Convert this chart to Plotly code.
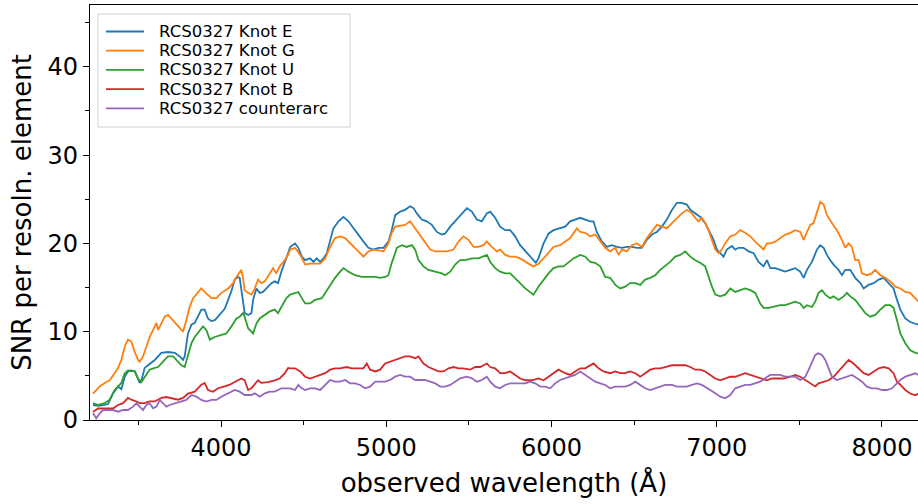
import plotly.graph_objects as go

# ---------------- data ----------------
series_names = ["RCS0327 Knot E", "RCS0327 Knot G", "RCS0327 Knot U",
                "RCS0327 Knot B", "RCS0327 counterarc"]
series_colors = ["#1f77b4", "#ff7f0e", "#2ca02c", "#d62728", "#9467bd"]

wave_E = [3225,3256,3296,3316,3346,3377,3397,3417,3437,3457,3478,3498,3508,3518,3538,3558,3599,3639,3679,3720,
          3750,3770,3780,3800,3821,3841,3861,3881,3901,3921,3942,3962,3982,4002,4022,4043,4063,4083,4103,4113,
          4133,4143,4164,4184,4194,4214,4234,4254,4285,4305,4325,4345,4365,4386,4406,
          4418,4448,4468,4489,4509,4539,4559,4579,4600,4620,4640,4660,4680,4711,4741,4771,4801,4832,4862,4892,
          4923,4953,4983,5013,5033,5054,5084,5114,5144,5165,5185,5215,5245,5276,5306,5336,5356,5387,5427,5457,
          5488,5518,5548,5578,5609,5629,5659,5689,
          5720,5750,5780,5810,5841,5871,5891,5905,5921,5952,5982,6012,6052,6083,6113,6143,6174,6204,6234,6254,
          6274,6305,6335,6365,6396,6426,6456,6486,6517,6547,6577,6607,6638,6668,6698,6729,6759,6789,6819,6840,
          6870,6900,6930,
          6950,6981,7001,7021,7041,7061,7092,7112,7132,7162,7193,7223,7253,7283,7304,7324,7354,7384,7415,7445,
          7475,7505,7526,7546,7576,7606,7626,7647,7667,7687,7707,7737,7758,7778,7808,7838,7869,7889,7919,7949,
          7980,8010,8040,8070,8091,8111,8141,8171,8202,8220]
snr_E = [1.7,1.6,1.7,1.8,3.0,3.8,3.5,4.9,5.5,5.6,5.5,4.5,4.2,4.5,5.9,6.2,6.8,7.6,7.7,7.6,
         7.2,6.8,7.2,9.8,10.8,11.0,11.7,12.5,12.5,11.5,11.2,11.3,11.7,12.1,12.6,13.6,14.6,15.9,16.2,16.1,
         13.6,12.1,11.9,12.1,13.6,14.9,14.4,14.5,15.1,15.5,15.7,15.5,16.8,17.8,18.9,
         19.6,20.0,19.5,18.5,18.1,18.3,17.9,18.3,17.9,18.3,18.9,20.4,21.7,22.5,23.0,22.5,21.7,21.0,20.2,19.5,
         19.3,19.5,19.5,20.2,21.5,23.2,23.6,23.8,24.2,24.0,23.4,22.7,22.5,22.1,21.3,21.0,21.1,21.9,22.7,23.4,
         24.0,23.6,22.7,22.5,23.4,23.6,22.9,21.9,
         21.5,21.5,20.8,19.8,19.1,18.5,18.1,17.8,18.3,20.0,21.1,21.5,21.7,21.9,22.5,22.7,22.9,22.7,22.5,22.5,
         21.3,20.2,19.6,19.8,19.6,19.5,19.6,19.6,19.5,19.5,20.4,21.0,21.3,21.9,22.7,23.8,24.6,24.6,24.4,23.8,
         23.4,23.0,22.3,
         21.5,20.4,19.3,18.9,18.5,19.3,19.7,19.3,19.5,19.5,19.1,18.9,17.9,17.4,18.1,17.2,17.2,17.0,16.8,17.0,
         17.2,16.8,16.1,17.0,17.9,19.3,19.8,19.5,18.7,18.1,17.6,17.0,16.4,17.0,17.0,16.1,15.5,14.9,15.3,15.5,
         15.9,16.1,15.5,14.9,13.6,12.5,11.5,11.1,10.9,10.8]

wave_G = [3225,3245,3266,3296,3326,3356,3377,3397,3417,3437,3457,3478,3498,3508,3528,3548,3568,3589,3609,3619,
          3639,3659,3679,3699,3720,3750,3770,3790,3810,3831,3851,3881,3901,3921,3942,3972,4002,4043,4073,4093,
          4123,4133,4143,4164,4184,4204,4224,4244,4265,4295,4315,4335,4355,4386,4406,
          4418,4448,4479,4509,4539,4569,4600,4630,4660,4690,4721,4751,4781,4822,4862,4892,4923,4953,4983,5013,
          5033,5054,5084,5114,5144,5175,5205,5235,5266,5296,5326,5366,5407,5437,5467,5498,5528,5558,5588,5609,
          5639,5669,5689,
          5720,5750,5780,5810,5841,5871,5891,5921,5952,5982,6012,6052,6083,6113,6153,6174,6204,6234,6264,6295,
          6325,6355,6386,6406,6426,6456,6486,6517,6547,6577,6607,6638,6668,6698,6729,6759,6789,6819,6850,6870,
          6890,6910,6930,
          6950,6971,6991,7011,7031,7051,7082,7112,7142,7172,7203,7233,7263,7283,7304,7324,7354,7384,7415,7445,
          7475,7505,7526,7546,7566,7586,7606,7626,7647,7667,7697,7727,7758,7778,7798,7818,7838,7859,7879,7909,
          7939,7959,7990,8020,8050,8081,8111,8141,8171,8202,8220]
snr_G = [3.0,3.4,3.8,4.2,4.5,5.3,5.9,6.8,8.3,9.1,8.9,7.7,6.8,6.6,7.2,8.3,9.4,10.2,11.0,10.2,
         11.0,11.7,11.9,11.5,11.0,10.4,10.0,11.3,12.8,13.8,14.2,14.9,14.5,14.2,13.8,13.8,14.4,14.9,15.5,16.2,
         17.0,16.1,14.7,14.4,14.2,14.9,15.9,15.5,15.7,16.6,17.2,16.6,17.4,18.1,18.7,
         19.3,19.5,18.7,17.6,17.7,17.7,17.7,18.3,19.6,20.6,20.8,20.6,20.0,19.3,18.5,19.1,19.3,19.2,19.1,20.0,
         21.2,21.9,22.0,22.1,22.5,21.7,21.0,20.2,19.3,19.1,19.1,19.1,19.3,20.2,20.8,20.4,19.6,19.6,19.8,20.2,
         19.6,19.1,19.3,
         18.7,18.5,18.5,18.3,17.9,17.6,17.4,17.7,18.3,18.9,19.6,19.8,20.2,20.6,21.7,21.3,21.2,20.8,21.0,20.2,
         19.5,19.1,19.5,18.7,19.3,19.1,19.8,20.0,19.6,20.6,21.3,22.1,21.9,21.7,22.3,22.9,23.4,23.8,23.4,22.9,
         22.5,22.9,22.3,
         21.5,20.4,19.3,18.9,19.3,20.0,20.8,21.0,21.5,21.2,20.8,20.2,19.6,19.3,20.0,20.0,20.2,20.6,21.0,21.2,
         21.5,21.3,20.4,21.3,22.1,22.3,23.4,24.7,24.4,23.2,22.3,21.5,20.4,19.5,20.0,19.6,18.1,18.1,16.6,16.4,
         16.6,17.0,16.4,16.1,15.7,15.1,14.9,14.5,14.4,13.8,13.4]

wave_U = [3225,3256,3296,3326,3356,3377,3397,3417,3437,3478,3498,3518,3538,3568,3599,3619,3649,3679,3710,3730,
          3760,3780,3800,3821,3841,3871,3891,3911,3932,3962,4002,4032,4063,4093,4113,4133,4143,4164,4194,4214,
          4234,4265,4295,4325,4345,4365,4396,
          4418,4448,4468,4489,4509,4539,4569,4610,4630,4660,4690,4721,4741,4771,4811,4852,4892,4933,4963,4993,
          5013,5033,5054,5064,5094,5124,5155,5175,5195,5225,5255,5296,5336,5356,5387,5417,5447,5477,5518,5558,
          5588,5609,5629,5659,5689,
          5720,5750,5780,5810,5841,5871,5891,5921,5952,5982,6012,6042,6073,6103,6133,6174,6204,6234,6264,6295,
          6325,6355,6386,6416,6446,6476,6507,6537,6567,6597,6628,6658,6688,6718,6749,6779,6809,6840,6870,6900,
          6930,
          6950,6971,6991,7021,7051,7082,7112,7142,7172,7203,7233,7263,7283,7314,7344,7384,7415,7445,7475,7505,
          7526,7546,7576,7596,7616,7637,7657,7687,7707,7737,7768,7788,7808,7838,7869,7899,7929,7959,7990,8020,
          8050,8070,8091,8111,8141,8171,8202,8220]
snr_U = [1.9,1.7,1.9,2.3,3.4,3.8,4.2,5.3,5.6,5.5,4.7,4.3,4.9,5.7,5.9,6.0,6.6,7.2,7.2,6.8,
         6.2,6.0,7.2,8.7,9.4,10.2,10.6,10.2,9.1,9.4,9.6,9.8,10.6,11.5,11.7,12.1,11.7,10.4,9.8,10.9,
         11.5,11.9,12.3,12.5,12.1,12.8,13.8,
         14.2,14.4,14.5,13.8,13.2,13.2,13.6,13.8,14.4,15.3,16.1,16.8,17.2,16.8,16.4,16.2,16.2,16.2,16.1,16.2,
         16.4,17.8,18.9,19.5,19.8,19.6,19.8,19.3,18.1,17.4,17.0,16.8,16.6,16.4,16.8,17.6,18.1,18.1,18.3,18.3,
         18.5,18.7,17.9,17.2,16.8,
         16.6,16.6,16.1,15.5,14.9,14.5,14.2,15.1,15.9,16.6,17.2,17.4,17.4,17.9,18.3,18.7,18.5,17.9,17.8,17.4,
         16.2,16.1,15.3,14.9,15.1,15.5,15.5,15.3,15.9,16.1,16.4,17.0,17.4,17.9,18.5,18.7,19.1,18.5,18.1,17.8,
         17.4,
         16.2,15.1,14.2,14.0,14.2,14.9,14.5,14.7,14.9,14.7,14.4,13.2,12.7,12.7,12.8,13.0,13.0,13.2,13.4,13.2,
         12.7,13.0,12.8,13.4,14.4,14.7,14.2,13.8,14.0,13.6,14.0,14.4,14.0,13.6,12.8,12.1,11.7,11.9,12.5,13.0,
         13.0,12.7,11.3,9.8,8.7,7.9,7.6,7.55]

wave_B = [3225,3256,3286,3316,3346,3377,3407,3437,3457,3488,3508,3538,3568,3599,3639,3669,3699,3740,3770,3800,
          3841,3881,3901,3921,3952,3982,4022,4053,4083,4123,4143,4164,4184,4204,4224,4244,4285,4325,4355,4386,
          4406,
          4418,4448,4479,4509,4539,4569,4600,4630,4660,4690,4721,4761,4791,4832,4862,4882,4902,4933,4963,4993,
          5023,5054,5084,5114,5144,5175,5195,5225,5255,5286,5316,5346,5377,5407,5437,5467,5508,5538,5568,5609,
          5629,5659,5689,
          5720,5750,5780,5810,5841,5881,5921,5952,5982,6012,6042,6083,6113,6143,6174,6204,6234,6254,6285,6315,
          6355,6386,6416,6446,6476,6507,6537,6567,6597,6628,6658,6688,6729,6769,6809,6840,6870,6900,6930,
          6961,6991,7021,7051,7082,7112,7142,7172,7203,7233,7263,7304,7334,7364,7405,7445,7475,7505,7536,7566,
          7596,7616,7647,7677,7707,7737,7768,7798,7828,7859,7889,7919,7949,7980,8010,8040,8070,8091,8111,8141,
          8171,8202,8220]
snr_B = [0.9,1.3,1.3,1.3,1.3,1.7,1.9,2.5,2.3,2.1,1.9,1.9,2.1,2.1,2.5,2.6,2.5,2.3,2.5,3.0,
         3.2,4.0,4.2,3.4,3.2,3.6,3.8,4.0,4.3,4.7,4.5,3.4,3.6,4.0,4.5,4.2,4.3,4.5,4.7,5.3,
         5.9,
         5.85,5.85,5.5,4.9,4.7,4.9,5.1,5.3,5.7,5.85,5.85,6.0,5.85,5.85,5.85,6.4,5.7,5.5,5.7,6.4,
         6.6,6.8,7.0,7.2,7.2,7.0,7.2,6.4,6.0,5.7,5.5,5.5,5.85,6.0,5.85,5.85,5.7,6.0,6.0,6.4,
         6.0,5.85,5.3,
         5.3,5.5,5.1,4.7,4.5,4.5,4.7,4.5,4.9,5.3,5.7,5.3,5.1,5.5,5.85,5.85,6.2,6.4,5.85,5.5,
         5.3,5.5,5.3,5.3,5.5,5.3,4.9,5.3,5.7,5.85,5.85,6.0,6.2,6.2,6.2,6.0,5.7,5.7,5.5,
         5.1,4.7,4.5,4.7,4.9,4.9,5.1,5.3,5.1,4.9,4.7,4.5,4.7,4.7,4.7,4.9,5.1,4.9,4.5,4.15,
         3.8,4.15,4.3,4.5,4.9,5.5,6.2,6.8,6.4,5.85,5.3,5.1,5.5,5.85,6.0,5.85,5.3,4.3,4.0,3.4,
         3.0,2.8,3.0]

wave_CA = [3225,3245,3266,3286,3316,3346,3377,3407,3437,3467,3488,3508,3528,3548,3568,3589,3609,3629,3649,3669,
           3689,3720,3760,3790,3821,3851,3881,3911,3942,3972,4002,4043,4083,4113,4143,4184,4204,4234,4265,4295,
           4325,4365,4406,
           4418,4448,4468,4489,4509,4539,4569,4600,4630,4660,4690,4721,4751,4781,4811,4842,4872,4902,4933,4963,
           4993,5023,5054,5084,5114,5144,5175,5205,5235,5266,5296,5326,5356,5387,5417,5447,5488,5518,5548,5578,
           5609,5629,5659,5689,
           5720,5750,5780,5810,5841,5871,5901,5932,5962,5992,6022,6052,6083,6113,6143,6174,6204,6234,6264,6295,
           6325,6355,6386,6416,6446,6476,6507,6537,6567,6597,6628,6658,6688,6729,6759,6789,6819,6850,6880,6910,
           6930,
           6961,6991,7021,7051,7082,7112,7142,7172,7203,7233,7263,7293,7324,7354,7384,7415,7445,7475,7505,7536,
           7556,7576,7596,7616,7637,7657,7677,7697,7727,7758,7788,7818,7849,7879,7909,7939,7970,8000,8030,8060,
           8091,8111,8141,8171,8202,8220]
snr_CA = [0.76,0.19,0.76,1.13,1.13,1.13,0.94,1.13,1.13,1.51,1.89,1.51,1.13,1.7,1.89,1.32,1.51,2.27,1.89,1.51,
          1.7,1.89,2.08,2.27,2.83,2.64,2.27,2.08,2.27,2.27,2.64,3.02,3.4,3.21,2.83,2.83,3.02,2.64,3.02,3.21,
          3.21,3.59,3.59,
          3.59,3.4,3.97,3.59,3.4,3.59,3.59,3.4,3.97,4.53,4.34,4.34,4.53,4.15,4.15,3.97,3.59,3.78,4.34,4.34,
          4.34,4.53,4.91,5.1,4.91,4.91,4.53,4.53,4.53,4.34,4.15,3.78,3.78,3.97,4.34,4.72,4.91,4.72,4.34,4.53,
          4.91,4.34,3.78,3.59,
          3.97,4.15,4.15,4.15,4.15,4.34,4.15,3.78,3.78,3.59,4.15,4.53,4.72,4.91,5.1,5.48,5.1,4.72,4.34,4.15,
          3.97,3.59,3.78,3.78,3.78,3.97,4.34,3.97,3.59,3.4,3.59,3.78,3.97,3.97,3.78,3.78,3.78,3.97,4.15,3.97,
          3.78,
          3.4,3.02,2.64,2.46,2.83,3.59,3.78,3.97,3.97,4.15,4.34,4.72,5.1,5.1,5.1,4.91,4.91,4.91,4.53,4.91,
          5.67,6.61,7.36,7.55,7.36,6.8,5.85,4.91,4.53,4.72,4.91,5.1,4.72,4.34,3.78,3.59,3.59,3.4,3.4,3.59,
          4.15,4.53,4.91,5.1,5.29,5.1]

x_tick_vals = [4000, 5000, 6000, 7000, 8000]
x_tick_text = ["4000", "5000", "6000", "7000", "8000"]
y_tick_vals = [0, 10, 20, 30, 40]
y_tick_text = ["0", "10", "20", "30", "40"]

waves = [wave_E, wave_G, wave_U, wave_B, wave_CA]
snrs = [snr_E, snr_G, snr_U, snr_B, snr_CA]

# ---------------- figure ----------------
FONT = "DejaVu Sans"
fig = go.Figure()
for name, color, w, s in zip(series_names, series_colors, waves, snrs):
    fig.add_trace(go.Scatter(x=w, y=s, mode="lines", name=name,
                             line=dict(color=color, width=1.8)))

axis_common = dict(showgrid=False, zeroline=False, showline=True,
                   linecolor="black", linewidth=1.2, ticks="outside",
                   ticklen=6, tickwidth=1.2, tickcolor="black",
                   tickfont=dict(family=FONT, size=24, color="black"))

fig.update_xaxes(range=[3207, 8218], tickvals=x_tick_vals, ticktext=x_tick_text,
                 mirror=True,
                 minor=dict(dtick=500, tick0=0, ticks="outside", ticklen=3.5,
                            tickwidth=1, tickcolor="black"),
                 title=dict(text="observed wavelength (Å)", standoff=12,
                            font=dict(family=FONT, size=26, color="black")),
                 **axis_common)
fig.update_yaxes(range=[0, 47], tickvals=y_tick_vals, ticktext=y_tick_text,
                 minor=dict(dtick=5, tick0=0, ticks="outside", ticklen=3.5,
                            tickwidth=1, tickcolor="black"),
                 title=dict(text="SNR per resoln. element", standoff=8,
                            font=dict(family=FONT, size=26, color="black")),
                 **axis_common)

# manual legend (matplotlib style: compact rows)
plot_w, plot_h = 828.0, 415.0
def px_x(p):
    return (p - 90) / plot_w
def px_y(p):
    return (420 - p) / plot_h

row_y = [31.5, 50.7, 69.9, 89.1, 108.3]
shapes = [dict(type="rect", xref="paper", yref="paper",
               x0=px_x(98), x1=px_x(350), y0=px_y(127), y1=px_y(14),
               line=dict(color="#d0d0d0", width=1), fillcolor="rgba(255,255,255,0.8)",
               layer="above")]
annotations = []
for name, color, ry in zip(series_names, series_colors, row_y):
    shapes.append(dict(type="line", xref="paper", yref="paper",
                       x0=px_x(106), x1=px_x(144), y0=px_y(ry), y1=px_y(ry),
                       line=dict(color=color, width=1.8), layer="above"))
    annotations.append(dict(xref="paper", yref="paper", x=px_x(158), y=px_y(ry),
                            xanchor="left", yanchor="middle", showarrow=False,
                            borderpad=0,
                            text=name, font=dict(family=FONT, size=16.5, color="black")))

fig.update_layout(width=918, height=504, showlegend=False,
                  margin=dict(l=90, r=0, t=5, b=84),
                  plot_bgcolor="white", paper_bgcolor="white",
                  shapes=shapes, annotations=annotations,
                  font=dict(family=FONT, color="black"))

fig.write_html("out.html")
